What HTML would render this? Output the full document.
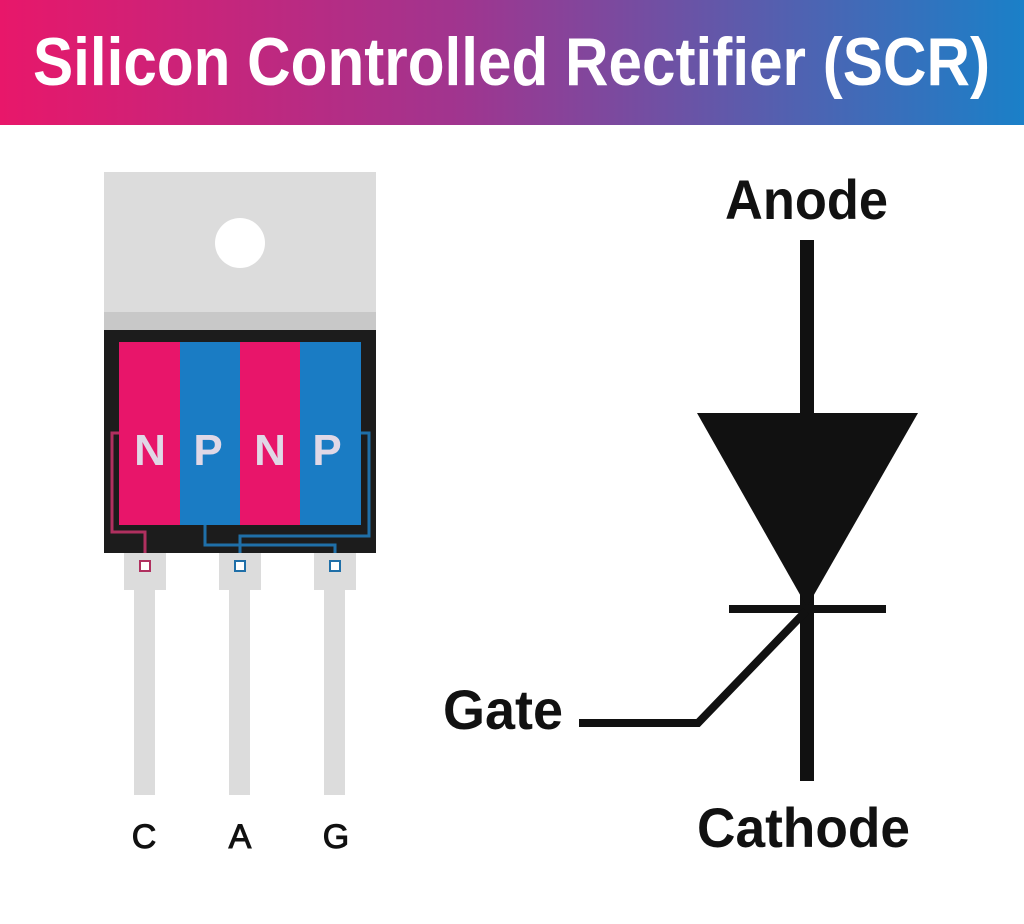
<!DOCTYPE html>
<html><head><meta charset="utf-8"><style>
html,body{margin:0;padding:0;background:#fff;}
body{width:1024px;height:924px;position:relative;overflow:hidden;font-family:"Liberation Sans",sans-serif;}
.title{position:absolute;left:0;top:0;width:1024px;height:125px;background:linear-gradient(90deg,#e8176a 0%,#a0358f 45%,#1a80c8 100%);}
</style></head><body>
<div class="title"></div>
<svg width="1024" height="924" style="position:absolute;left:0;top:0" font-family="Liberation Sans, sans-serif" font-weight="bold">
<text x="33" y="85" font-size="68" fill="#fff" textLength="957" lengthAdjust="spacingAndGlyphs">Silicon Controlled Rectifier (SCR)</text>
<!-- heatsink tab -->
<rect x="104" y="172" width="272" height="160" fill="#dcdcdc"/>
<rect x="104" y="312" width="272" height="20" fill="#c8c8c8"/>
<circle cx="240" cy="243" r="25" fill="#fff"/>
<!-- body -->
<rect x="104" y="330" width="272" height="223" fill="#1c1c1c"/>
<rect x="119" y="342" width="61" height="183" fill="#e8156a"/>
<rect x="180" y="342" width="60" height="183" fill="#1a7cc4"/>
<rect x="240" y="342" width="60" height="183" fill="#e8156a"/>
<rect x="300" y="342" width="61" height="183" fill="#1a7cc4"/>
<g font-size="44" fill="#e0d8e6" text-anchor="middle">
<text x="150" y="465">N</text><text x="208" y="465">P</text><text x="270" y="465">N</text><text x="327" y="465">P</text>
</g>
<!-- wires -->
<polyline points="119,433 112,433 112,532 145,532 145,562" fill="none" stroke="#b0305f" stroke-width="3"/>
<polyline points="361,433 369,433 369,536 240,536 240,562" fill="none" stroke="#1f6fa8" stroke-width="3"/>
<polyline points="205,525 205,545 335,545 335,562" fill="none" stroke="#1f6fa8" stroke-width="3"/>
<!-- leads -->
<g fill="#dcdcdc">
<rect x="124" y="553" width="42" height="37"/><rect x="134" y="590" width="21" height="205"/>
<rect x="219" y="553" width="42" height="37"/><rect x="229" y="590" width="21" height="205"/>
<rect x="314" y="553" width="42" height="37"/><rect x="324" y="590" width="21" height="205"/>
</g>
<rect x="140" y="561" width="10" height="10" fill="#fff" stroke="#b0305f" stroke-width="2"/>
<rect x="235" y="561" width="10" height="10" fill="#fff" stroke="#1f6fa8" stroke-width="2"/>
<rect x="330" y="561" width="10" height="10" fill="#fff" stroke="#1f6fa8" stroke-width="2"/>
<g font-size="34" fill="#111" text-anchor="middle" font-weight="normal" stroke="#111" stroke-width="1">
<text x="144" y="848">C</text><text x="240" y="848">A</text><text x="336" y="848">G</text>
</g>
<!-- symbol -->
<rect x="800" y="240" width="14" height="541" fill="#111"/>
<polygon points="697,413 918,413 807,607" fill="#111"/>
<rect x="729" y="605" width="157" height="8" fill="#111"/>
<polyline points="579,723 698,723 806,611" fill="none" stroke="#111" stroke-width="8"/>
<g font-size="56" fill="#111">
<text x="725" y="219" textLength="163" lengthAdjust="spacingAndGlyphs">Anode</text>
<text x="443" y="729" textLength="120" lengthAdjust="spacingAndGlyphs">Gate</text>
<text x="697" y="847" textLength="213" lengthAdjust="spacingAndGlyphs">Cathode</text>
</g>
</svg>
</body></html>
